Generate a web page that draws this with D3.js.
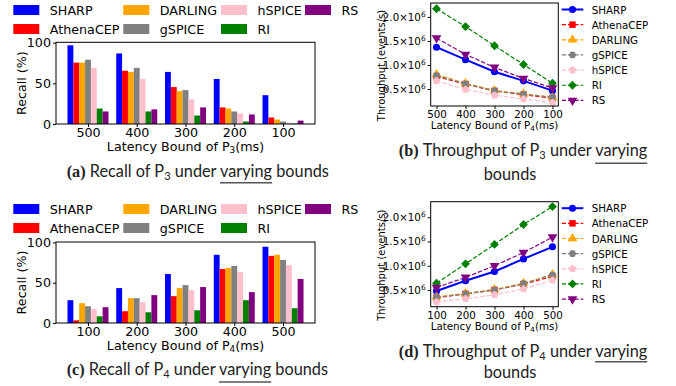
<!DOCTYPE html>
<html><head><meta charset="utf-8">
<script src="https://cdn.jsdelivr.net/npm/d3@7"></script>
<style>body{margin:0;background:#fff}svg{display:block}</style>
</head><body>
<svg id="fig" width="676" height="386"></svg>
<script>
var methods = ["SHARP","AthenaCEP","DARLING","gSPICE","hSPICE","RI","RS"];
var colours = ["#0000ff","#ff0000","#ffa500","#808080","#ffc0cb","#008000","#800080"];
var boundsP3 = [500,400,300,200,100];
var boundsP4 = [100,200,300,400,500];
// recall (%), one row per method, columns follow the bounds array
var recallP3 = [
  [96.7,86.7,64.0,55.4,35.4],
  [75.4,65.4,45.4,20.4,8.0],
  [75.4,64.0,40.4,19.0,5.4],
  [79.0,69.0,41.7,15.4,3.0],
  [69.0,55.4,30.4,13.0,1.7],
  [19.0,15.4,10.4,3.0,0.5],
  [15.4,18.0,20.4,11.7,4.2]
];
var recallP4 = [
  [28.3,43.3,60.8,84.6,94.6],
  [3.3,14.6,33.3,67.0,83.3],
  [24.6,30.8,43.3,68.3,84.6],
  [20.8,30.8,47.0,70.8,78.3],
  [17.0,25.8,40.8,63.3,72.0],
  [8.3,13.3,15.8,28.3,18.3],
  [19.6,34.6,44.6,38.3,54.6]
];
// throughput in millions of events/s
var tputP3 = [
  [1.37,1.11,0.86,0.67,0.465],
  [0.76,0.60,0.46,0.38,0.31],
  [0.80,0.62,0.47,0.40,0.33],
  [0.78,0.61,0.46,0.39,0.33],
  [0.67,0.49,0.37,0.29,0.22],
  [2.17,1.80,1.40,1.01,0.62],
  [1.56,1.22,0.95,0.72,0.52]
];
var tputP4 = [
  [0.48,0.69,0.88,1.14,1.39],
  [0.34,0.42,0.50,0.62,0.78],
  [0.36,0.43,0.51,0.64,0.82],
  [0.35,0.42,0.50,0.63,0.81],
  [0.25,0.32,0.40,0.52,0.70],
  [0.64,1.04,1.44,1.85,2.22],
  [0.55,0.76,1.00,1.27,1.59]
];
var recallTicks = [0,50,100];
var tputTicks = [0.5,1.0,1.5,2.0];

var svg = d3.select("#fig");
var FONT = "DejaVu Sans, sans-serif",
    CAPFONT = "Lato, sans-serif",
    CAPSIZE = 16.3;

function polyPath(n, r, rot) {
  var p = d3.path();
  for (var i = 0; i < n; i++) {
    var a = rot + i * 2 * Math.PI / n;
    if (i == 0) p.moveTo(r * Math.sin(a), -r * Math.cos(a));
    else p.lineTo(r * Math.sin(a), -r * Math.cos(a));
  }
  p.closePath();
  return p.toString();
}
var markers = [
  d3.symbol(d3.symbolCircle, 40)(),
  d3.symbol(d3.symbolSquare, 42)(),
  d3.symbol(d3.symbolTriangle, 40)(),
  polyPath(6, 3.8, Math.PI / 6),
  polyPath(5, 4.0, 0),
  polyPath(4, 4.4, 0),
  d3.symbol(d3.symbolTriangle, 40)()
];

// title with a subscript, e.g. "Latency Bound of P" + "3" + "(ms)"
function subText(t, parts, size) {
  t.append("tspan").text(parts[0]);
  t.append("tspan").attr("font-size", size * 0.7).attr("dy", size * 0.2).text(parts[1]);
  t.append("tspan").attr("dy", -size * 0.2).text(parts[2]);
}

function barChart(cfg) {
  var g = svg.append("g");
  var y = d3.scaleLinear().domain([0, cfg.ymax]).range([cfg.bottom, cfg.top]);
  var x0 = d3.scalePoint().domain(cfg.bounds).range([56, 315]).padding(0.656);
  var x1 = d3.scaleBand().domain(methods).range([-20.5, 20.5]);

  methods.forEach(function(m, i) {
    g.selectAll(null).data(cfg.values[i]).enter().append("rect")
      .attr("x", function(d, j) { return x0(cfg.bounds[j]) + x1(m); })
      .attr("width", x1.bandwidth())
      .attr("y", function(d) { return y(d); })
      .attr("height", function(d) { return y(0) - y(d); })
      .attr("fill", colours[i]);
  });

  var ay = g.append("g").attr("transform", "translate(56,0)")
    .call(d3.axisLeft(y).tickValues(recallTicks).tickSize(3).tickPadding(2));
  var ax = g.append("g").attr("transform", "translate(0," + cfg.bottom + ")")
    .call(d3.axisBottom(x0).tickSize(3).tickPadding(0.5));
  [ay, ax].forEach(function(a) {
    a.select(".domain").remove();
    a.selectAll("text").attr("font-family", FONT).attr("font-size", 12.7).attr("fill", "#000");
  });
  g.append("rect").attr("x", 56).attr("y", cfg.top).attr("width", 259).attr("height", cfg.bottom - cfg.top)
    .attr("fill", "none").attr("stroke", "#000").attr("stroke-width", 1);

  g.append("text").attr("transform", "translate(21," + (cfg.top + cfg.bottom) / 2 + ") rotate(-90)")
    .attr("text-anchor", "middle").attr("dominant-baseline", "central")
    .attr("font-family", FONT).attr("font-size", 12.7).text("Recall (%)");
  var xt = g.append("text").attr("x", 185.5).attr("y", cfg.bottom + 26.5)
    .attr("text-anchor", "middle").attr("font-family", FONT).attr("font-size", 12.7);
  subText(xt, cfg.xtitle, 12.7);

  // legend, 4 columns filled column-wise
  var colX = [13.3, 123.3, 221, 305];
  methods.forEach(function(m, i) {
    var cx = colX[Math.floor(i / 2)], cy = cfg.legendTop + (i % 2) * 19;
    g.append("rect").attr("x", cx).attr("y", cy - 5).attr("width", 26).attr("height", 10).attr("fill", colours[i]);
    g.append("text").attr("x", cx + 36.5).attr("y", cy).attr("dominant-baseline", "central")
      .attr("font-family", FONT).attr("font-size", 12.7).text(m);
  });
}

function lineChart(cfg) {
  var g = svg.append("g");
  var x = d3.scaleLinear().domain(cfg.xdom).range([430.7, 558.3]);
  var y = d3.scaleLinear().domain(cfg.ydom).range([cfg.bottom, cfg.top]);
  var line = d3.line().x(function(d, j) { return x(cfg.bounds[j]); }).y(function(d) { return y(d); });

  methods.forEach(function(m, i) {
    var solid = i == 0;
    g.append("path").datum(cfg.values[i]).attr("d", line).attr("fill", "none")
      .attr("stroke", colours[i]).attr("stroke-width", solid ? 2 : 1.2)
      .attr("stroke-dasharray", solid ? null : "4.4,1.9");
    g.selectAll(null).data(cfg.values[i]).enter().append("path")
      .attr("d", markers[i]).attr("fill", colours[i])
      .attr("transform", function(d, j) {
        return "translate(" + x(cfg.bounds[j]) + "," + y(d) + ")" + (i == 6 ? " rotate(180)" : "");
      });
  });

  var ay = g.append("g").attr("transform", "translate(430.7,0)")
    .call(d3.axisLeft(y).tickValues(tputTicks).tickSize(3).tickPadding(2).tickFormat(""));
  ay.selectAll(".tick text").each(function(d) {
    var t = d3.select(this);
    t.append("tspan").text(d3.format(".1f")(d) + "×10");
    t.append("tspan").attr("font-size", 7.5).attr("dy", -4).text("6");
  });
  var ax = g.append("g").attr("transform", "translate(0," + cfg.bottom + ")")
    .call(d3.axisBottom(x).tickValues(cfg.bounds).tickSize(3).tickPadding(1.5).tickFormat(d3.format("d")));
  [ay, ax].forEach(function(a) {
    a.select(".domain").remove();
    a.selectAll("text").attr("font-family", FONT).attr("font-size", 10.3).attr("fill", "#000");
  });
  g.append("rect").attr("x", 430.7).attr("y", cfg.top).attr("width", 127.6).attr("height", cfg.bottom - cfg.top)
    .attr("fill", "none").attr("stroke", "#000").attr("stroke-width", 1);

  g.append("text").attr("transform", "translate(381," + ((cfg.top + cfg.bottom) / 2 + 11) + ") rotate(-90)")
    .attr("text-anchor", "middle").attr("dominant-baseline", "central")
    .attr("font-family", FONT).attr("font-size", 10).text("Throughput (events/s)");
  var xt = g.append("text").attr("x", 494.5).attr("y", cfg.bottom + 23)
    .attr("text-anchor", "middle").attr("font-family", FONT).attr("font-size", 10.3);
  subText(xt, ["Latency Bound of P", "4", "(ms)"], 10.3);

  methods.forEach(function(m, i) {
    var ly = cfg.top + 6.5 + i * 15.15;
    g.append("line").attr("x1", 561.7).attr("x2", 583.3).attr("y1", ly).attr("y2", ly)
      .attr("stroke", colours[i]).attr("stroke-width", i == 0 ? 2 : 1.2)
      .attr("stroke-dasharray", i == 0 ? null : "4.4,1.9");
    g.append("path").attr("d", markers[i]).attr("fill", colours[i])
      .attr("transform", "translate(572.5," + ly + ")" + (i == 6 ? " rotate(180)" : ""));
    g.append("text").attr("x", 591.7).attr("y", ly).attr("dominant-baseline", "central")
      .attr("font-family", FONT).attr("font-size", 10.3).text(m);
  });
}

// caption: bold label, text with subscript, underline below "varying"
function caption(cfg) {
  var anchor = cfg.wrap ? "middle" : "start";
  var t = svg.append("text").attr("x", cfg.x).attr("y", cfg.y).attr("text-anchor", anchor)
    .attr("font-family", CAPFONT).attr("font-size", CAPSIZE).attr("fill", "#222");
  t.append("tspan").attr("font-family", "Liberation Serif, serif").attr("font-weight", "bold").text(cfg.label + " ");
  t.append("tspan").text(cfg.pre);
  t.append("tspan").attr("font-size", CAPSIZE * 0.68).attr("dy", 3).text(cfg.sub);
  t.append("tspan").attr("dy", -3).text(" under varying");
  if (!cfg.wrap) t.append("tspan").text(" bounds");
  var node = t.node(), s = t.text().indexOf("varying");
  var x1 = node.getStartPositionOfChar(s).x, x2 = node.getEndPositionOfChar(s + 6).x;
  svg.append("line").attr("x1", x1).attr("x2", x2).attr("y1", cfg.y + cfg.ul).attr("y2", cfg.y + cfg.ul)
    .attr("stroke", "#555").attr("stroke-width", 1.5);
  if (cfg.wrap) {
    svg.append("text").attr("x", cfg.wrapX).attr("y", cfg.y + cfg.wrap).attr("text-anchor", "middle")
      .attr("font-family", CAPFONT).attr("font-size", CAPSIZE).attr("fill", "#222").text("bounds");
  }
}

barChart({top: 42.3, bottom: 124, ymax: 100.4, bounds: boundsP3, values: recallP3,
  legendTop: 10, xtitle: ["Latency Bound of P", "3", "(ms)"]});
barChart({top: 242, bottom: 323, ymax: 100.5, bounds: boundsP4, values: recallP4,
  legendTop: 209, xtitle: ["Latency Bound of P", "4", "(ms)"]});
lineChart({top: 3, bottom: 106, xdom: [520, 80], ydom: [0.146, 2.29], bounds: boundsP3, values: tputP3});
lineChart({top: 201.7, bottom: 306.7, xdom: [80, 520], ydom: [0.155, 2.32], bounds: boundsP4, values: tputP4});

caption({x: 66.7, y: 176.7, label: "(a)", pre: "Recall of P", sub: "3", ul: 6});
caption({x: 66.7, y: 375, label: "(c)", pre: "Recall of P", sub: "4", ul: 7});
caption({x: 523, y: 156, label: "(b)", pre: "Throughput of P", sub: "3", ul: 7.3, wrap: 24, wrapX: 510});
caption({x: 523, y: 356.7, label: "(d)", pre: "Throughput of P", sub: "4", ul: 5, wrap: 21.6, wrapX: 510});
</script>
</body></html>
